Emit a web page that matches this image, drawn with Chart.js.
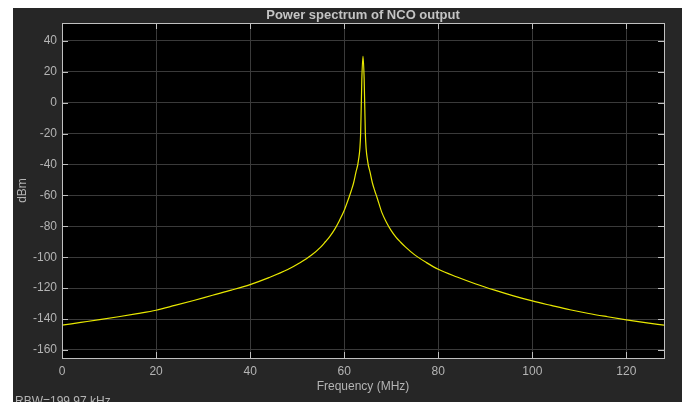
<!DOCTYPE html>
<html>
<head>
<meta charset="utf-8">
<title>Power spectrum of NCO output</title>
<script src="https://cdn.jsdelivr.net/npm/chart.js@4/dist/chart.umd.min.js"></script>
<style>
    html, body { margin: 0; padding: 0; background: #fff; }
    canvas { display: block; }
</style>
</head>
<body>
<canvas id="spectrumChart" width="686" height="402"></canvas>
<script>
// Trục tần số (MHz) và công suất (dBm)
const freqMHz = [0, 4, 8, 12, 16, 20, 24, 28, 32, 36, 40, 44, 48, 50.5, 53, 55, 56, 57, 58, 59, 60, 61, 61.5, 62, 62.5, 63, 63.5, 63.75,
    64,
    64.25, 64.5, 65, 65.5, 66, 66.5, 67, 68, 69, 70, 71, 72, 73, 75, 77.5, 80, 84, 88, 92, 96, 100, 104, 108, 112, 116, 120, 124, 128];
const powerDbm = [-144, -142.2, -140.4, -138.5, -136.5, -134.3, -131.2, -128, -124.6, -121.3, -117.7, -113.2, -108, -103.8, -98.8, -93.5, -90, -86.3, -81.8, -76.2, -69.8, -61.5, -57, -52, -45, -38, -20, 15,
    30,
    15, -20, -38, -45, -52, -57, -61.5, -71, -77.5, -82.8, -87, -90.3, -93.3, -98.5, -103.5, -107.8, -112.8, -117.3, -121.3, -125, -128.3, -131.2, -134, -136.4, -138.5, -140.5, -142.3, -144];

const xTicks = [0, 20, 40, 60, 80, 100, 120];
const yTicks = [-160, -140, -120, -100, -80, -60, -40, -20, 0, 20, 40];

const chartTitle = 'Power spectrum of NCO output';
const rbwText = 'RBW=199.97 kHz';

const FONT = '"Liberation Sans", Arial, sans-serif';
const PANEL = '#262626';
const AXIS = '#c0c0c0';
const TEXT = '#b4b4b4';

/**
 * Vẽ nền, khung, vạch chia hướng vào trong, tiêu đề và dòng RBW
 */
const scopeFrame = {
    id: 'scopeFrame',
    beforeDraw(chart) {
        const { ctx, chartArea: a, width, height } = chart;
        ctx.save();
        ctx.fillStyle = '#fff';
        ctx.fillRect(0, 0, width, height);
        ctx.fillStyle = PANEL;
        ctx.fillRect(13, 8, 669, height - 8);
        ctx.fillStyle = '#000';
        ctx.fillRect(a.left, a.top, a.right - a.left, a.bottom - a.top);
        ctx.restore();
    },
    afterDraw(chart) {
        const { ctx, chartArea: a, scales } = chart;
        const len = 6;
        ctx.save();
        ctx.strokeStyle = AXIS;
        ctx.lineWidth = 1;
        ctx.beginPath();
        scales.x.ticks.forEach(t => {
            const px = Math.round(scales.x.getPixelForValue(t.value)) + 0.5;
            ctx.moveTo(px, a.bottom); ctx.lineTo(px, a.bottom - len);
            ctx.moveTo(px, a.top); ctx.lineTo(px, a.top + len);
        });
        scales.y.ticks.forEach(t => {
            const py = Math.round(scales.y.getPixelForValue(t.value)) + 0.5;
            ctx.moveTo(a.left, py); ctx.lineTo(a.left + len, py);
            ctx.moveTo(a.right, py); ctx.lineTo(a.right - len, py);
        });
        ctx.stroke();
        ctx.strokeRect(Math.round(a.left) + 0.5, Math.round(a.top) + 0.5,
            Math.round(a.right - a.left), Math.round(a.bottom - a.top));

        // tiêu đề
        ctx.fillStyle = '#c4c4c4';
        ctx.font = 'bold 13px ' + FONT;
        ctx.textAlign = 'center';
        ctx.textBaseline = 'middle';
        ctx.fillText(chartTitle, (a.left + a.right) / 2, 15);

        // RBW (bị cắt ở mép dưới)
        ctx.fillStyle = TEXT;
        ctx.font = '12px ' + FONT;
        ctx.textAlign = 'left';
        ctx.textBaseline = 'top';
        ctx.fillText(rbwText, 15, 396);
        ctx.restore();
    }
};

const points = freqMHz.map((f, i) => ({ x: f, y: powerDbm[i] }));

new Chart(document.getElementById('spectrumChart'), {
    type: 'line',
    data: {
        datasets: [{
            label: 'NCO output',
            data: points,
            borderColor: '#e8e800',
            borderWidth: 1.2,
            pointRadius: 0,
            fill: false,
            cubicInterpolationMode: 'monotone'
        }]
    },
    plugins: [scopeFrame],
    options: {
        responsive: false,
        animation: false,
        layout: { padding: { left: 0, right: 22, top: 23, bottom: 0 } },
        plugins: {
            legend: { display: false },
            tooltip: { enabled: false },
            title: { display: false }
        },
        scales: {
            x: {
                type: 'linear',
                min: 0,
                max: 128,
                afterBuildTicks: s => { s.ticks = xTicks.map(v => ({ value: v })); },
                afterFit: s => { s.height = 44; },
                grid: { color: '#3a3a3a', drawTicks: false },
                border: { display: false },
                ticks: { color: TEXT, padding: 6, font: { family: FONT, size: 12 } },
                title: {
                    display: true,
                    text: 'Frequency (MHz)',
                    color: TEXT,
                    font: { family: FONT, size: 12 },
                    padding: { top: 0, bottom: 8 }
                }
            },
            y: {
                min: -165.2,
                max: 51.5,
                afterBuildTicks: s => { s.ticks = yTicks.map(v => ({ value: v })); },
                afterFit: s => { s.width = 62; },
                grid: { color: '#3a3a3a', drawTicks: false },
                border: { display: false },
                ticks: { color: TEXT, padding: 5, font: { family: FONT, size: 12 } },
                title: {
                    display: true,
                    text: 'dBm',
                    color: TEXT,
                    font: { family: FONT, size: 12 },
                    padding: { top: 15, bottom: 0 }
                }
            }
        }
    }
});
</script>
</body>
</html>
